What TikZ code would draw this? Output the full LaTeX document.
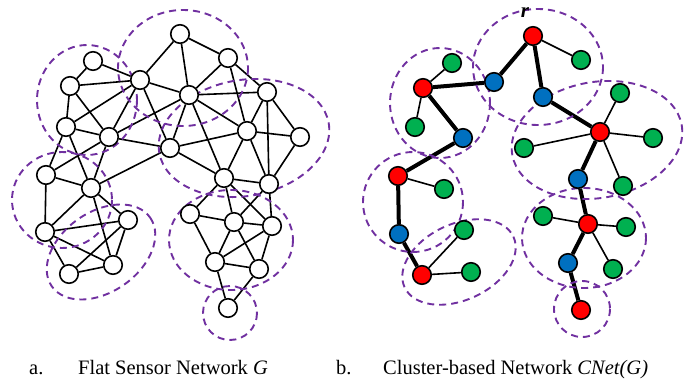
\documentclass[tikz,border=0pt]{standalone}
\usepackage{fontspec}
\setmainfont{Liberation Serif}
\pgfdeclarelayer{edgelayer}
\pgfdeclarelayer{zonelayer}
\pgfsetlayers{edgelayer,zonelayer,main}
\definecolor{zonepurple}{HTML}{7030A0}
\definecolor{chred}{HTML}{FF0000}
\definecolor{memgreen}{HTML}{00B050}
\definecolor{gwblue}{HTML}{0070C0}
\begin{document}
\begin{tikzpicture}[x=1pt,y=-1pt,
  sensor/.style={circle, draw=black, line width=1.6pt, fill=white, minimum size=18.5pt, inner sep=0pt},
  headnode/.style={sensor, fill=chred},
  member/.style={sensor, fill=memgreen},
  gateway/.style={sensor, fill=gwblue},
  link/.style={line width=1.6pt},
  trunk/.style={line width=4pt},
  zone/.style={draw=zonepurple, line width=1.9pt, dash pattern=on 7pt off 5pt},
  caption/.style={font=\fontsize{20.5}{24}\selectfont, anchor=base west, inner sep=0pt}
]
\useasboundingbox (0,0) rectangle (686,378);

% ---------- left: flat sensor network ----------
\foreach \n/\x/\y in {1/180/34, 2/228/58, 3/93/61, 4/140/80, 5/70/86, 6/189/95,
  7/267/92, 8/66/127, 9/109/137, 10/170/148, 11/247/131, 12/300/137,
  13/46/175, 14/91/188, 15/224/178, 16/269/184, 17/190/214, 18/234/222,
  19/272/226, 20/128/220, 21/45/232, 22/215/262, 23/259/269, 24/113/265,
  25/69/274, 26/228/308}
  \node[sensor] (a\n) at (\x,\y) {};

\begin{pgfonlayer}{edgelayer}
\foreach \u/\v in {1/2,1/4,1/6, 2/6,2/7,2/11, 3/4,3/5, 4/5,4/6,4/8,4/9,4/10,
  5/8,5/9, 6/7,6/9,6/10,6/11,6/15, 7/11,7/12,7/16, 8/9,8/13,8/14,
  9/10,9/13,9/14, 10/11,10/14,10/15, 11/12,11/15,11/16, 12/16,
  13/14,13/21, 14/20,14/21,14/24, 15/16,15/17,15/18,15/19, 16/18,16/19,
  17/18,17/22, 18/19,18/22,18/23, 19/22,19/23, 20/21,20/24,20/25,
  21/24,21/25, 22/23,22/26,23/26, 24/25}
  \draw[link] (a\u) -- (a\v);
\end{pgfonlayer}

\begin{pgfonlayer}{zonelayer}
\draw[zone] (87,100) ellipse [x radius=50, y radius=55];
\draw[zone] (183,68) ellipse [x radius=65, y radius=58];
\draw[zone, rotate around={10:(244,138)}] (244,138) ellipse [x radius=86, y radius=58];
\draw[zone] (62,200) ellipse [x radius=50, y radius=48];
\draw[zone, rotate around={35:(101,252)}] (101,252) ellipse [x radius=60, y radius=40];
\draw[zone] (231,240) ellipse [x radius=62, y radius=50];
\draw[zone] (230,313) ellipse [x radius=27, y radius=27];
\end{pgfonlayer}

% ---------- right: cluster-based network ----------
\foreach \n/\x/\y/\k in {1/533/36/headnode, 2/581/60/member, 3/452/63/member,
  4/423/88/headnode, 5/494/82/gateway, 6/543/97/gateway, 7/415/127/member,
  8/463/138/gateway, 9/620/93/member, 10/600/132/headnode, 11/653/138/member,
  12/524/148/member, 13/398/176/headnode, 14/444/189/member, 15/578/179/gateway,
  16/623/186/member, 17/543/216/member, 18/588/224/headnode, 19/626/227/member,
  20/399/234/gateway, 21/464/230/member, 22/613/269/member, 23/568/263/gateway,
  24/422/275/headnode, 25/471/272/member, 26/581/310/headnode}
  \node[\k] (b\n) at (\x,\y) {};

\begin{pgfonlayer}{edgelayer}
\foreach \u/\v in {1/5,1/6,5/4,4/8,8/13,13/20,20/24,6/10,10/15,15/18,18/23,23/26}
  \draw[trunk] (b\u) -- (b\v);
\foreach \u/\v in {1/2,4/3,4/7,10/9,10/11,10/12,10/16,13/14,18/17,18/19,18/22,24/21,24/25}
  \draw[link] (b\u) -- (b\v);
\end{pgfonlayer}

\begin{pgfonlayer}{zonelayer}
\draw[zone] (440,103) ellipse [x radius=50, y radius=55];
\draw[zone] (538,67) ellipse [x radius=65, y radius=58];
\draw[zone, rotate around={10:(597,140)}] (597,140) ellipse [x radius=86, y radius=58];
\draw[zone] (413,202) ellipse [x radius=50, y radius=50];
\draw[zone, rotate around={25:(459,262)}] (459,262) ellipse [x radius=60, y radius=38];
\draw[zone] (584,238) ellipse [x radius=62, y radius=50];
\draw[zone] (582,309) ellipse [x radius=28, y radius=28];
\end{pgfonlayer}

\node[font=\fontsize{21}{22}\selectfont\bfseries\itshape, anchor=base, inner sep=0pt] (rlabel) at (525,17) {r};

% ---------- captions ----------
\node[caption] (capa) at (29,374) {a.};
\node[caption] (capat) at (78,374) {Flat Sensor Network \textit{G}};
\node[caption] (capb) at (336,374) {b.};
\node[caption] (capbt) at (383,374) {Cluster-based Network \textit{CNet(G)}};
\end{tikzpicture}
\end{document}
